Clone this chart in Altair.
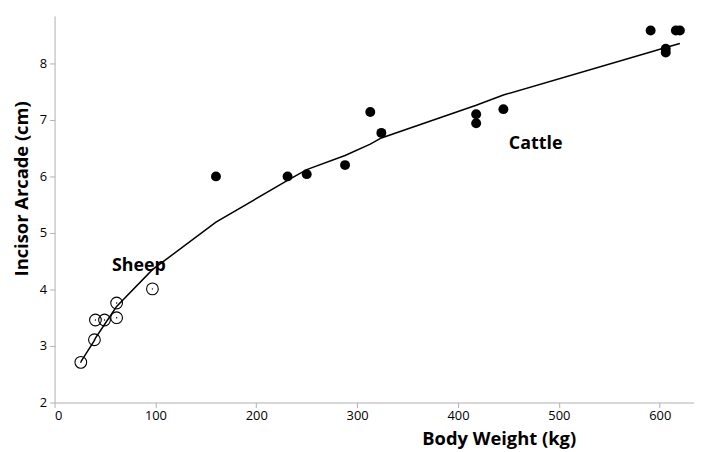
import altair as alt
import pandas as pd

# Sheep (open circles)
sheep_w = [26, 39.5, 40.5, 49.5, 61.5, 61.5, 97]
sheep_a = [2.71, 3.11, 3.46, 3.46, 3.76, 3.50, 4.01]

# Cattle (filled circles)
cattle_w = [160, 231, 250, 288, 313, 324, 418, 418, 445, 591, 606, 606, 616, 620]
cattle_a = [6.00, 6.00, 6.04, 6.20, 7.14, 6.77, 7.10, 6.94, 7.19, 8.58, 8.26, 8.19, 8.58, 8.58]

# Fitted curve
fit_w = [26, 39.5, 40.5, 49.5, 61.5, 97, 160, 231, 250, 288, 313, 324, 418, 445, 591, 606, 620]
fit_a = [2.72, 3.10, 3.14, 3.38, 3.70, 4.35, 5.19, 5.93, 6.12, 6.37, 6.57, 6.68, 7.26, 7.44, 8.20, 8.28, 8.35]

# Group labels
lab_text = ["Sheep", "Cattle"]
lab_w = [83.6, 477]
lab_a = [4.42, 6.58]

x_ticks = [0, 100, 200, 300, 400, 500, 600]
y_ticks = [2, 3, 4, 5, 6, 7, 8]

FONT = "Open Sans"

sheep = pd.DataFrame({"w": sheep_w, "a": sheep_a})
cattle = pd.DataFrame({"w": cattle_w, "a": cattle_a})
fit = pd.DataFrame({"w": fit_w, "a": fit_a})
labels = pd.DataFrame({"t": lab_text, "w": lab_w, "a": lab_a})

xs = alt.Scale(domain=[0, 634], nice=False, zero=False)
ys = alt.Scale(domain=[2, 8.84], nice=False, zero=False)

xax = alt.Axis(values=x_ticks, format="d", title="Body Weight (kg)", grid=False,
               domainColor="#b0b0b0", tickColor="#b0b0b0", tickSize=5,
               labelFont=FONT, labelFontSize=13, labelColor="#000000",
               titleFont=FONT, titleFontSize=18.5, titleFontWeight="bold",
               titleColor="#000000", titleX=448, titleY=42,
               titleBaseline="alphabetic", labelPadding=2)
yax = alt.Axis(values=y_ticks, format="d", title="Incisor Arcade (cm)", grid=False,
               domainColor="#b0b0b0", tickColor="#b0b0b0", tickSize=5,
               labelFont=FONT, labelFontSize=13, labelColor="#000000",
               titleFont=FONT, titleFontSize=18.5, titleFontWeight="bold",
               titleColor="#000000", titleX=-33, titleY=174,
               titleBaseline="middle", labelPadding=3)

line = alt.Chart(fit).mark_line(color="black", strokeWidth=1.5).encode(
    x=alt.X("w:Q", scale=xs, axis=xax),
    y=alt.Y("a:Q", scale=ys, axis=yax),
    order="w:Q",
)

open_pts = alt.Chart(sheep).mark_point(
    shape="circle", filled=False, color="black", strokeWidth=1.1, size=140, opacity=1
).encode(x=alt.X("w:Q", scale=xs), y=alt.Y("a:Q", scale=ys))

open_dots = alt.Chart(sheep).mark_circle(color="black", size=2, opacity=1).encode(
    x=alt.X("w:Q", scale=xs), y=alt.Y("a:Q", scale=ys))

filled_pts = alt.Chart(cattle).mark_circle(color="black", size=100, opacity=1).encode(
    x=alt.X("w:Q", scale=xs), y=alt.Y("a:Q", scale=ys))

text = alt.Chart(labels).mark_text(
    font=FONT, fontSize=18, fontWeight="bold", color="black", align="center", baseline="middle"
).encode(x=alt.X("w:Q", scale=xs), y=alt.Y("a:Q", scale=ys), text="t:N")

chart = alt.layer(line, open_pts, open_dots, filled_pts, text).properties(
    width=645, height=390,
    autosize=alt.AutoSizeParams(type="none"),
    padding={"left": 47, "top": 6, "right": 0, "bottom": 48},
).configure(background="white").configure_view(stroke=None, strokeWidth=0)

chart.save("out.html", embed_options={"renderer": "svg", "actions": False})
